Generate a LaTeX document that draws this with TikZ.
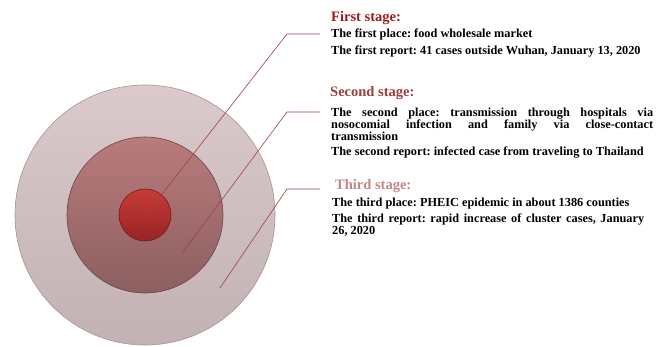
\documentclass[tikz,border=0pt]{standalone}
\usepackage{fontspec}
\setmainfont{Liberation Serif}
\usepackage{tikz}
\usetikzlibrary{positioning}
\usepackage{xcolor}
\definecolor{outtop}{HTML}{DBC9CB}
\definecolor{outbot}{HTML}{C2B2B4}
\definecolor{outedge}{HTML}{A89395}
\definecolor{midtop}{HTML}{BA7B7C}
\definecolor{midbot}{HTML}{8C5F60}
\definecolor{midedge}{HTML}{6A4445}
\definecolor{coretop}{HTML}{C63C39}
\definecolor{corebot}{HTML}{982323}
\definecolor{coreedge}{HTML}{761818}
\definecolor{leadred}{HTML}{A04040}
\definecolor{headone}{HTML}{9C1C20}
\definecolor{headtwo}{HTML}{9E3E3C}
\definecolor{headthree}{HTML}{C48585}

\begin{document}
\begin{tikzpicture}[x=1pt, y=-1pt,
  ring/.style={circle, inner sep=0pt, line width=0.6pt},
  leader/.style={draw=leadred, line width=0.6pt},
  head/.style={anchor=base west, inner sep=0pt, font=\fontsize{14.5}{16}\selectfont\bfseries},
  body/.style={anchor=base west, inner sep=0pt, text width=322pt, align=justify,
    font=\fontsize{12.3}{12}\selectfont\bfseries\frenchspacing}]
\useasboundingbox (0,0) rectangle (667,347);

% Circles
\node[ring, draw=outedge, top color=outtop, bottom color=outbot, minimum size=260pt] (outer) at (145,215) {};
\node[ring, draw=midedge, top color=midtop, bottom color=midbot, minimum size=156pt] (middle) at (145,215) {};
\node[ring, draw=coreedge, top color=coretop, bottom color=corebot, minimum size=52pt] (core) at (145,215) {};

% Leaders
\coordinate (p1) at (145,216);
\coordinate (k1) at (287,34);
\coordinate (e1) at (320,34);
\coordinate (p2) at (183,252);
\coordinate (k2) at (287,112);
\coordinate (e2) at (320,112);
\coordinate (p3) at (220,288);
\coordinate (k3) at (287,189);
\coordinate (e3) at (320,189);
\draw[leader] (p1) -- (k1) -- (e1);
\draw[leader] (p2) -- (k2) -- (e2);
\draw[leader] (p3) -- (k3) -- (e3);

% First stage
\node[head, text=headone] (stage1) at (331,21.5) {First stage:};
\node[body] (place1) at (331,38) {The first place: food wholesale market};
\node[body] (report1) at (331,55) {The first report: 41 cases outside Wuhan, January 13, 2020};

% Second stage
\node[head, text=headtwo] (stage2) at (330,97) {Second stage:};
\node[body] (place2) at (331,117) {The second place: transmission through hospitals via\linebreak
  nosocomial infection and family via close-contact\linebreak transmission};
\node[body] (report2) at (331,156) {The second report: infected case from traveling to Thailand};

% Third stage
\node[head, text=headthree] (stage3) at (335,190) {Third stage:};
\node[body] (place3) at (332,207) {The third place: PHEIC epidemic in about 1386 counties};
\node[body, text width=312pt] (report3) at (332,223) {The third report: rapid increase of cluster cases, January\linebreak 26, 2020};
\end{tikzpicture}
\end{document}
